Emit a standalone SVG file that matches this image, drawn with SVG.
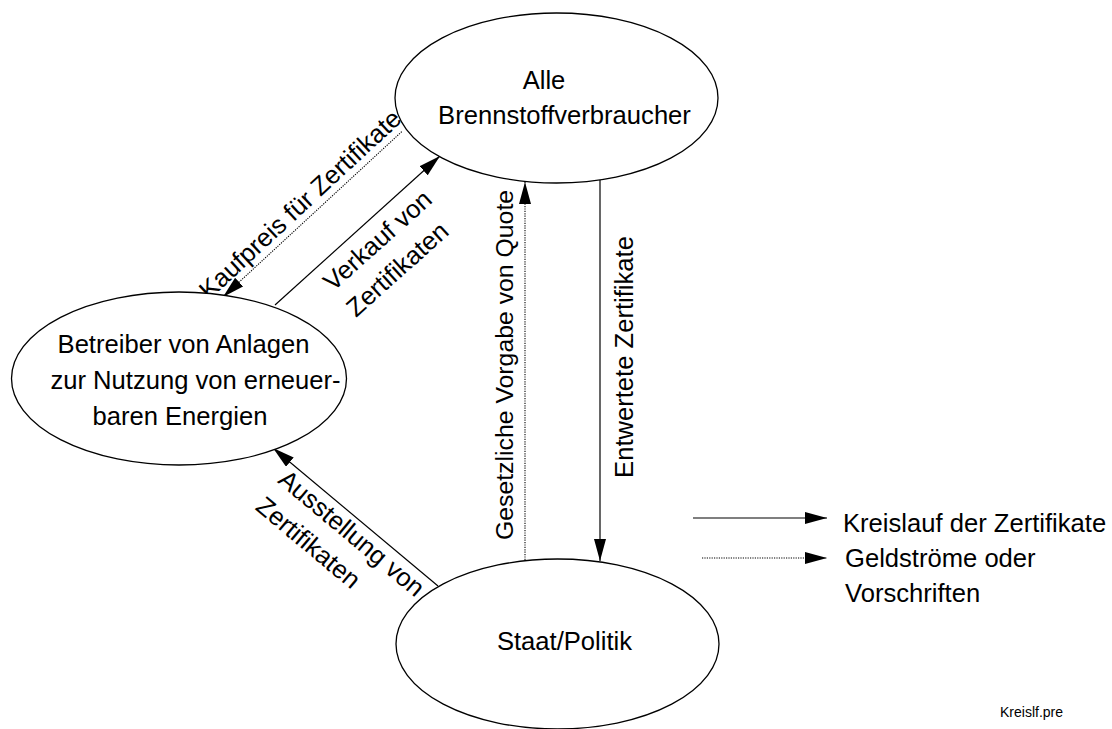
<svg xmlns="http://www.w3.org/2000/svg" width="1112" height="729" viewBox="0 0 1112 729">
<style>
text{font-family:"Liberation Sans",Arial,sans-serif;font-size:25.6px;fill:#000}
.node ellipse{fill:#fff;stroke:#000;stroke-width:1.3}
.solid{stroke:#000;stroke-width:1.2;fill:none}
.dot{stroke:#000;stroke-width:1.1;fill:none;stroke-dasharray:1.2,1.2}
.small{font-size:14px}
.v{font-size:24.8px}
</style>
<defs>
<marker id="ah" markerUnits="userSpaceOnUse" markerWidth="23" markerHeight="13" refX="22" refY="6" orient="auto">
<path d="M0,0 L22,6 L0,12 z" fill="#000"/>
</marker>
</defs>
<rect width="1112" height="729" fill="#fff"/>
<g id="connectors">
<line class="dot" x1="401.7" y1="131.7" x2="223" y2="297" marker-end="url(#ah)"/>
<line class="solid" x1="275" y1="305" x2="440" y2="156" marker-end="url(#ah)"/>
<line class="solid" x1="438" y1="586" x2="273" y2="448" marker-end="url(#ah)"/>
<line class="dot" x1="525" y1="560" x2="525" y2="182" marker-end="url(#ah)"/>
<line class="solid" x1="600" y1="180" x2="600" y2="561" marker-end="url(#ah)"/>
<line class="solid" x1="693" y1="518" x2="827" y2="518" marker-end="url(#ah)"/>
<line class="dot" x1="702" y1="558" x2="827" y2="558" marker-end="url(#ah)"/>
</g>
<g id="labels">
<text transform="translate(306,210.6) rotate(-42.8)" text-anchor="middle">Kaufpreis für Zertifikate</text>
<text transform="translate(333,292) rotate(-41.9)">Verkauf von</text>
<text transform="translate(356,318) rotate(-41.9)">Zertifikaten</text>
<text transform="translate(276.7,482) rotate(39.9)">Ausstellung von</text>
<text transform="translate(254.3,508.8) rotate(39.9)">Zertifikaten</text>
<text class="v" transform="translate(513,365) rotate(-90)" text-anchor="middle">Gesetzliche Vorgabe von Quote</text>
<text transform="translate(633,357) rotate(-90)" text-anchor="middle">Entwertete Zertifikate</text>
</g>
<g id="node-verbraucher" class="node">
<ellipse cx="556.5" cy="98" rx="161.5" ry="85"/>
<text x="544" y="89" text-anchor="middle">Alle</text>
<text x="564.5" y="124" text-anchor="middle">Brennstoffverbraucher</text>
</g>
<g id="node-betreiber" class="node">
<ellipse cx="179" cy="378.5" rx="167.5" ry="86.5"/>
<text x="183.5" y="353" text-anchor="middle">Betreiber von Anlagen</text>
<text x="195.5" y="389" text-anchor="middle">zur Nutzung von erneuer-</text>
<text x="180" y="425" text-anchor="middle">baren Energien</text>
</g>
<g id="node-staat" class="node">
<ellipse cx="557.5" cy="644" rx="161.5" ry="85"/>
<text x="564.5" y="650" text-anchor="middle">Staat/Politik</text>
</g>
<g id="legend">
<text x="843" y="532">Kreislauf der Zertifikate</text>
<text x="845" y="567">Geldströme oder</text>
<text x="845" y="602">Vorschriften</text>
<text class="small" x="1000" y="717">Kreislf.pre</text>
</g>
</svg>
